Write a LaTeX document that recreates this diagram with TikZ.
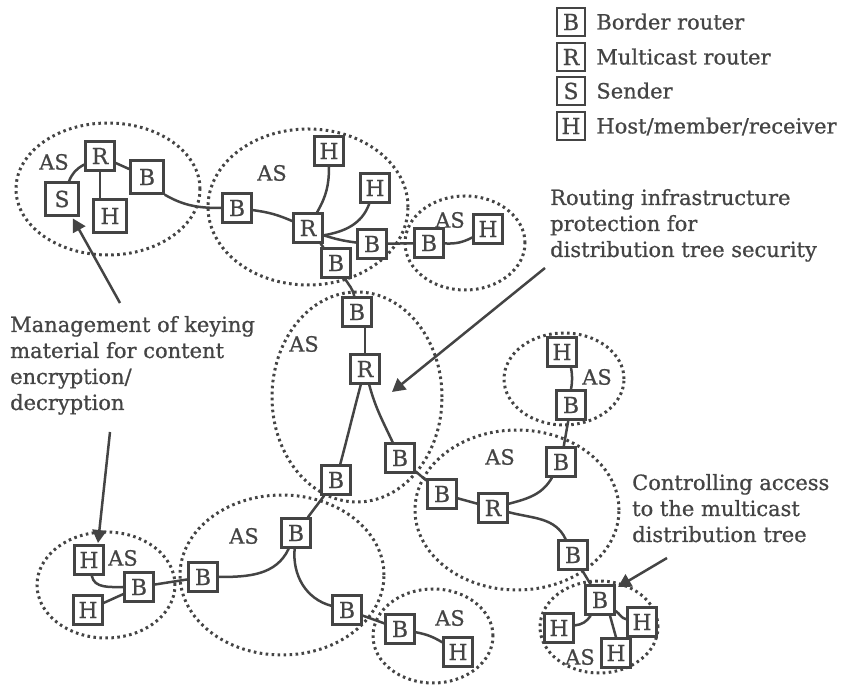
\documentclass[tikz,border=0pt]{standalone}
\usepackage{fontspec}
\setmainfont{DejaVu Serif}[FakeBold=0.8]
\usetikzlibrary{arrows.meta}
\definecolor{ink}{RGB}{68,68,68}
\begin{document}
\begin{tikzpicture}[x=1pt,y=1pt,
  every node/.style={text=ink},
  dev/.style={draw=ink, line width=2.4pt, fill=white, minimum size=29pt,
    inner sep=0pt, font=\fontsize{22}{24}\selectfont},
  bigdev/.style={dev, minimum size=33pt},
  keydev/.style={dev, minimum size=28pt},
  link/.style={draw=ink, line width=2.5pt},
  asborder/.style={draw=ink, line width=3pt, dash pattern=on 2.6pt off 3.4pt},
  aslabel/.style={font=\fontsize{21}{24}\selectfont, inner sep=0pt},
  keytext/.style={font=\fontsize{21}{26}\selectfont, inner sep=0pt, anchor=base west},
  note/.style={font=\fontsize{21}{26}\selectfont, align=left, inner sep=0pt, anchor=base west},
  pointer/.style={draw=ink, line width=2.5pt, -{Triangle[length=13pt,width=14pt]}},
]
\useasboundingbox (0,0) rectangle (856,687);

% autonomous systems
\draw[asborder] (108,498) ellipse [x radius=92,  y radius=66];
\draw[asborder] (308,480) ellipse [x radius=100, y radius=78];
\draw[asborder] (465,444) ellipse [x radius=60,  y radius=47];
\draw[asborder] (357,290) ellipse [x radius=85,  y radius=105];
\draw[asborder] (564,308) ellipse [x radius=60,  y radius=46];
\draw[asborder] (517,177) ellipse [x radius=102, y radius=80];
\draw[asborder] (599,60)  ellipse [x radius=59,  y radius=46];
\draw[asborder] (433,51)  ellipse [x radius=60,  y radius=47];
\draw[asborder] (282,112) ellipse [x radius=102, y radius=80];
\draw[asborder] (106,102) ellipse [x radius=69,  y radius=53];

\node[aslabel] (as1)  at (54,525)  {AS};
\node[aslabel] (as2)  at (272,514) {AS};
\node[aslabel] (as3)  at (450,467) {AS};
\node[aslabel] (as4)  at (304,343) {AS};
\node[aslabel] (as5)  at (597,310) {AS};
\node[aslabel] (as6)  at (500,230) {AS};
\node[aslabel] (as7)  at (580,30)  {AS};
\node[aslabel] (as8)  at (450,69)  {AS};
\node[aslabel] (as9)  at (244,151) {AS};
\node[aslabel] (as10) at (123,129) {AS};

% devices
\node[bigdev] (s1)  at (62,488)  {S};
\node[dev]    (r1)  at (100,531) {R};
\node[bigdev] (h1)  at (110,471) {H};
\node[bigdev] (b1)  at (147,510) {B};
\node[dev] (b2)  at (237,479) {B};
\node[dev] (r2)  at (308,459) {R};
\node[dev] (h2)  at (329,536) {H};
\node[dev] (h3)  at (375,499) {H};
\node[dev] (b3)  at (372,443) {B};
\node[dev] (b4)  at (336,424) {B};
\node[dev] (b5)  at (429,444) {B};
\node[dev] (h4)  at (488,458) {H};
\node[dev] (b6)  at (357,375) {B};
\node[dev] (r3)  at (365,318) {R};
\node[dev] (b7)  at (336,207) {B};
\node[dev] (b8)  at (400,229) {B};
\node[dev] (b9)  at (442,193) {B};
\node[dev] (r4)  at (493,179) {R};
\node[dev] (b10) at (561,225) {B};
\node[dev] (b11) at (571,282) {B};
\node[dev] (h5)  at (562,335) {H};
\node[dev] (b12) at (573,132) {B};
\node[dev] (b13) at (600,87)  {B};
\node[dev] (h6)  at (559,59)  {H};
\node[dev] (h7)  at (642,65)  {H};
\node[dev] (h8)  at (616,34)  {H};
\node[dev] (b14) at (296,154) {B};
\node[dev] (b15) at (203,110) {B};
\node[dev] (b16) at (347,77)  {B};
\node[dev] (b17) at (400,58)  {B};
\node[dev] (h9)  at (458,35)  {H};
\node[dev] (b18) at (139,100) {B};
\node[dev] (h10) at (89,127)  {H};
\node[dev] (h11) at (88,77)   {H};

% links
\draw[link] (s1) to[bend left=20] (r1);
\draw[link] (r1.south) -- (r1.south |- h1.north);
\draw[link] (r1) -- (b1);
\draw[link] (b1.south east) to[out=-30,in=180] (b2);
\draw[link] (b2) to[bend left=8] (r2);
\draw[link] (r2) to[out=60,in=-90] (h2);
\draw[link] (r2.-25) to[out=10,in=-110] (h3);
\draw[link] (r2.-25) to[bend right=5] (b3);
\draw[link] (r2) -- (b4);
\draw[link] (b3) -- (b5);
\draw[link] (b5) to[bend right=15] (h4);
\draw[link] (b4) to[out=-60,in=100] (b6);
\draw[link] (r3.north) -- (r3.north |- b6.south);
\draw[link] (r3) to[out=-105,in=75] (b7);
\draw[link] (r3) to[out=-75,in=115] (b8);
\draw[link] (b8) -- (b9);
\draw[link] (b9) -- (r4);
\draw[link] (r4) to[out=15,in=-120] (b10);
\draw[link] (r4) to[out=-15,in=115] (b12);
\draw[link] (b10) -- (b11);
\draw[link] (b11.north) to[bend right=10] (b11.north |- h5.south);
\draw[link] (b12) -- (b13);
\draw[link] (h6) to[bend right=25] (b13);
\draw[link] (b13) to[out=-35,in=170] (h7);
\draw[link] ([xshift=10pt]b13.south) -- (h8.north);
\draw[link] (b7) -- (b14);
\draw[link] (b14) to[out=-115,in=0] (b15);
\draw[link] (b14) to[out=-95,in=165] (b16);
\draw[link] (b16) -- (b17);
\draw[link] (b17) to[bend left=10] (h9);
\draw[link] (b18) -- (b15);
\draw[link] (h10) to[out=-80,in=180] (b18);
\draw[link] (b18) -- (h11);

% legend
\node[keydev] (kb) at (571,665) {B};
\node[keydev] (kr) at (571,630) {R};
\node[keydev] (ks) at (571,596) {S};
\node[keydev] (kh) at (571,561) {H};
\node[keytext] (kbt) at ([xshift=10pt,yshift=-7.5pt]kb.east) {Border router};
\node[keytext] (krt) at ([xshift=10pt,yshift=-7.5pt]kr.east) {Multicast router};
\node[keytext] (kst) at ([xshift=10pt,yshift=-7.5pt]ks.east) {Sender};
\node[keytext] (kht) at ([xshift=10pt,yshift=-7.5pt]kh.east) {Host/member/receiver};

% annotations (anchored at the baseline of their last line)
\node[note] (keying) at (10,277) {Management of keying\\material for content\\encryption/\\decryption};
\node[note] (infra) at (550,430) {Routing infrastructure\\protection for\\distribution tree security};
\node[note] (access) at (632,145) {Controlling access\\to the multicast\\distribution tree};

\coordinate (p1) at (120,384);
\coordinate (p2) at (110,255);
\coordinate (q2) at (98,144);
\coordinate (p3) at (545,419);
\coordinate (q3) at (392,295);
\coordinate (p4) at (667,129);
\coordinate (q4) at (618,100);
\draw[pointer, shorten >=2pt] (p1) -- (s1);
\draw[pointer] (p2) -- (q2);
\draw[pointer] (p3) -- (q3);
\draw[pointer] (p4) -- (q4);
\end{tikzpicture}
\end{document}
